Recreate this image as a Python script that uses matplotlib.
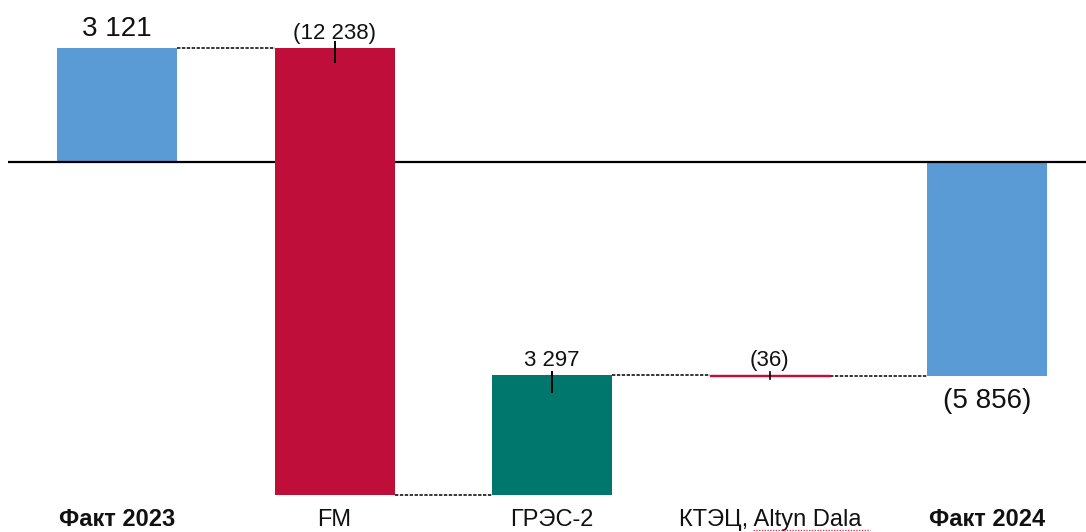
import matplotlib
matplotlib.use("Agg")
import matplotlib.pyplot as plt
from matplotlib.lines import Line2D

plt.rcParams['font.family'] = ['Liberation Sans', 'DejaVu Sans']

# ---- data ----
categories = ["Факт 2023", "FM", "ГРЭС-2", "КТЭЦ, Altyn Dala", "Факт 2024"]
deltas = [3121, -12238, 3297, -36]          # start value followed by changes
value_labels = ["3 121", "(12 238)", "3 297", "(36)", "(5 856)"]
bold_flags = [True, False, False, False, True]

BLUE = "#5B9BD5"
RED = "#C00E3A"
TEAL = "#00776D"

# compute waterfall
bottoms, heights, colors = [], [], []
level = 0
for i, d in enumerate(deltas):
    if i == 0:
        bottoms.append(0); heights.append(d); colors.append(BLUE)
        level = d
    else:
        bottoms.append(level); heights.append(d)
        colors.append(RED if d < 0 else TEAL)
        level += d
final = level
bottoms.append(0); heights.append(final); colors.append(BLUE)

W, H = 1086, 532
fig = plt.figure(figsize=(W / 100, H / 100), dpi=100)
ax = fig.add_axes([0, 0, 1, 1])
ax.axis("off")

step_px = 217.6
x0_px = 117
s = 114 / 3121.0  # px per unit
ax.set_xlim(-x0_px / step_px, (W - x0_px) / step_px)
ax.set_ylim(-(H - 162) / s, 162 / s)
PX = 1 / s  # one pixel in data units (y)

xs = list(range(len(categories)))
width = 120 / step_px
for i in range(len(categories)):
    crosses_zero = bottoms[i] > 0 and bottoms[i] + heights[i] < 0
    thin = abs(heights[i]) * s < 2
    ax.bar(xs[i], heights[i], bottom=bottoms[i], width=width, color=colors[i],
           edgecolor=colors[i] if thin else "none", linewidth=1.0 if thin else 0,
           zorder=6 if crosses_zero else (5.5 if thin else 2))

# zero line
ax.plot([-0.50, ax.get_xlim()[1]], [0, 0], color="black", lw=1.6, zorder=4,
        solid_capstyle="butt")

# connectors
levels = []
lv = 0
for i, d in enumerate(deltas):
    lv = d if i == 0 else lv + d
    levels.append(lv)
for i in range(len(categories) - 1):
    ax.plot([xs[i] + width / 2, xs[i + 1] - width / 2], [levels[i], levels[i]],
            color="black", lw=1.1, linestyle=(0, (2.2, 1.0)), zorder=3)

TXT = "#111111"
# value labels
tops = [max(b, b + h) for b, h in zip(bottoms, heights)]
ax.text(xs[0], tops[0] + 12 * PX, value_labels[0], ha="center", va="baseline",
        fontsize=20, color=TXT)
for i in (1, 2, 3):
    ax.text(xs[i], tops[i] + 9 * PX, value_labels[i], ha="center", va="baseline",
            fontsize=16, color=TXT)
ax.text(xs[4], final - 32 * PX, value_labels[4], ha="center", va="baseline",
        fontsize=20, color=TXT)

# small label ticks
ax.plot([xs[1], xs[1]], [tops[1] + 6 * PX, tops[1] - 14 * PX], color="black", lw=1.4, zorder=7)
ax.plot([xs[2], xs[2]], [tops[2] + 3 * PX, tops[2] - 17 * PX], color="black", lw=1.4, zorder=7)
ax.plot([xs[3], xs[3]], [tops[3] + 3 * PX, tops[3] - 4 * PX], color="black", lw=1.2, zorder=7)

# category labels
ybase = -(526 - 162) * PX
for x, c, b in zip(xs, categories, bold_flags):
    ax.text(x, ybase, c, ha="center", va="baseline", fontsize=17,
            fontweight="bold" if b else "normal", color=TXT)

# spell-check style underline under "Altyn Dala"
fig.add_artist(Line2D([753 / W, 870 / W], [1 - 529.5 / H, 1 - 529.5 / H],
                      transform=fig.transFigure, color="#E04050", lw=1.0,
                      linestyle=(0, (1, 1))))

fig.savefig("out.png", dpi=100)
